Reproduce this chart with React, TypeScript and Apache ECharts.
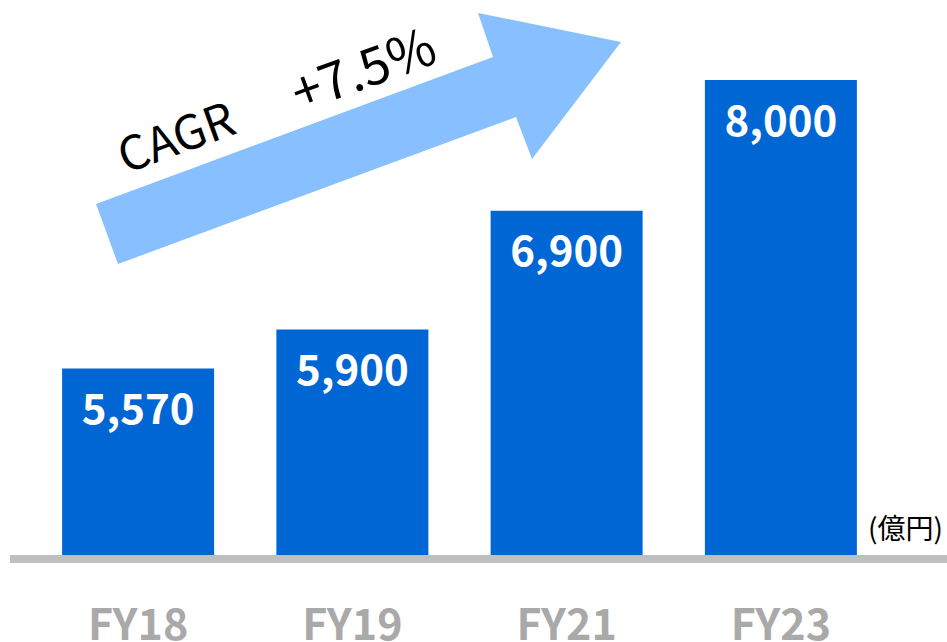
import React, { useEffect, useRef } from "react";
import * as echarts from "echarts";

const categories = ["FY18", "FY19", "FY21", "FY23"];
const values = [5570, 5900, 6900, 8000];
const unitLabel = "(億円)";
const cagrLabel = "CAGR";
const cagrValue = "+7.5%";

export default function App() {
  const ref = useRef<HTMLDivElement>(null);
  useEffect(() => {
    document.body.style.margin = "0";
    const chart = echarts.init(ref.current!, null, { renderer: "svg" });
    const rot = (20 * Math.PI) / 180;
    chart.setOption({
      animation: false,
      grid: { left: 31, right: 59, top: 80, bottom: 87 },
      xAxis: {
        type: "category",
        data: categories,
        axisLine: { show: false },
        axisTick: { show: false },
        axisLabel: {
          margin: 44,
          color: "#a9a9a9",
          fontSize: 43,
          fontWeight: "bold",
          fontFamily: "Noto Sans CJK JP",
          lineHeight: 43,
        },
      },
      yAxis: { type: "value", min: 4000, max: 8000, show: false, splitLine: { show: false } },
      series: [
        {
          type: "bar",
          data: values,
          barWidth: 152,
          itemStyle: { color: "#0066d4" },
          label: {
            show: true,
            position: ["50%", 37],
            align: "center",
            verticalAlign: "middle",
            color: "#ffffff",
            fontSize: 42,
            fontWeight: "bold",
            fontFamily: "Noto Sans CJK JP",
            formatter: (p: any) => Number(p.value).toLocaleString("en-US"),
          },
        },
      ],
      graphic: [
        {
          type: "rect",
          shape: { x: 10, y: 555, width: 937, height: 8 },
          style: { fill: "#bfbfbf" },
          z: 10,
        },
        {
          type: "polygon",
          shape: {
            points: [
              [96, 204],
              [493, 57],
              [478, 13],
              [621, 42],
              [532, 159],
              [516, 117],
              [118, 264],
            ],
          },
          style: { fill: "#88bfff" },
        },
        {
          type: "text",
          x: 175,
          y: 134,
          rotation: rot,
          style: {
            text: cagrLabel,
            fill: "#000",
            fontSize: 47,
            fontFamily: "Noto Sans CJK JP",
            align: "center",
            verticalAlign: "middle",
          },
        },
        {
          type: "text",
          x: 362,
          y: 66,
          rotation: rot,
          style: {
            text: cagrValue,
            fill: "#000",
            fontSize: 52,
            fontFamily: "Noto Sans CJK JP",
            align: "center",
            verticalAlign: "middle",
          },
        },
        {
          type: "text",
          x: 868,
          y: 527,
          style: {
            text: unitLabel,
            fill: "#000",
            fontSize: 28,
            fontFamily: "Noto Sans CJK JP",
            align: "left",
            verticalAlign: "middle",
          },
        },
      ],
    });
    return () => chart.dispose();
  }, []);
  return <div ref={ref} style={{ width: 947, height: 642 }} />;
}
